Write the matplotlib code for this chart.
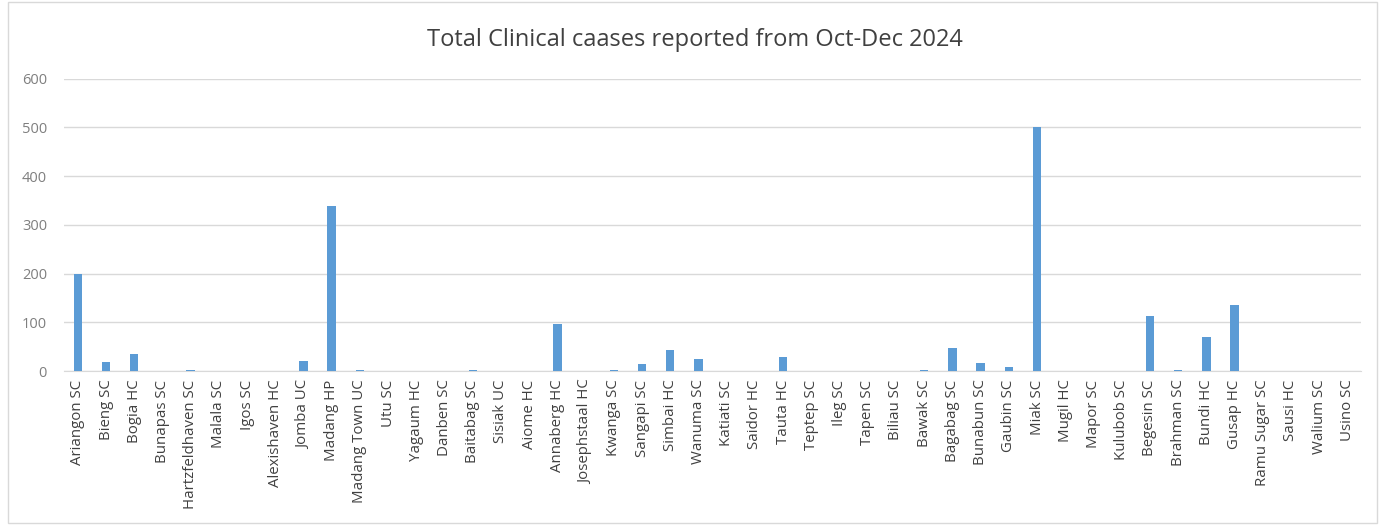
import matplotlib.pyplot as plt
from matplotlib.patches import Rectangle

# facility names and total clinical cases, Oct-Dec 2024
facilities = [
    'Ariangon SC', 'Bieng SC', 'Bogia HC', 'Bunapas SC', 'Hartzfeldhaven SC',
    'Malala SC', 'Igos SC', 'Alexishaven HC', 'Jomba UC', 'Madang HP',
    'Madang Town UC', 'Utu SC', 'Yagaum HC', 'Danben SC', 'Baitabag SC',
    'Sisiak UC', 'Aiome HC', 'Annaberg HC', 'Josephstaal HC', 'Kwanga SC',
    'Sangapi SC', 'Simbai HC', 'Wanuma SC', 'Katiati SC', 'Saidor HC',
    'Tauta HC', 'Teptep SC', 'Ileg SC', 'Tapen SC', 'Biliau SC',
    'Bawak SC', 'Bagabag SC', 'Bunabun SC', 'Gaubin SC', 'Miak SC',
    'Mugil HC', 'Mapor SC', 'Kulubob SC', 'Begesin SC', 'Brahman SC',
    'Bundi HC', 'Gusap HC', 'Ramu Sugar SC', 'Sausi HC', 'Walium SC',
    'Usino SC',
]
cases = [
    200, 19, 35, 0, 2,
    0, 0, 0, 21, 339,
    2, 0, 0, 0, 2,
    0, 0, 96, 0, 2,
    14, 44, 25, 0, 0,
    29, 0, 0, 0, 0,
    2, 48, 17, 8, 500,
    0, 0, 0, 114, 2,
    70, 135, 0, 0, 0,
    0,
]

plt.rcParams['font.family'] = ['Open Sans', 'DejaVu Sans']

fig = plt.figure(figsize=(13.85, 5.25), dpi=100)
ax = fig.add_axes([0.046, 0.293, 0.937, 0.557])

x = range(len(facilities))
ax.bar(x, cases, width=0.3, color='#5B9BD5', zorder=3)

ax.set_xlim(-0.5, len(facilities) - 0.5)
ax.set_ylim(0, 600)
ax.set_yticks(range(0, 601, 100))
ax.set_xticks(list(x))
ax.set_xticklabels(facilities, rotation=90, fontsize=10.8, color='#404040')
ax.tick_params(axis='y', labelsize=10.5, labelcolor='#7F7F7F', length=0, pad=12)
ax.tick_params(axis='x', length=0, pad=6)
ax.grid(axis='y', color='#D9D9D9', linewidth=1, zorder=0)
for side in ['top', 'right', 'left']:
    ax.spines[side].set_visible(False)
ax.spines['bottom'].set_color('#D9D9D9')

fig.text(0.502, 0.924, 'Total Clinical caases reported from Oct-Dec 2024',
         ha='center', va='center', fontsize=17, color='#404040')

# light chart border like the spreadsheet chart frame
fig.patches.append(Rectangle((0.006, 0.004), 0.988, 0.992, transform=fig.transFigure,
                             fill=False, edgecolor='#D9D9D9', linewidth=1))

fig.savefig('out.png', dpi=100)
